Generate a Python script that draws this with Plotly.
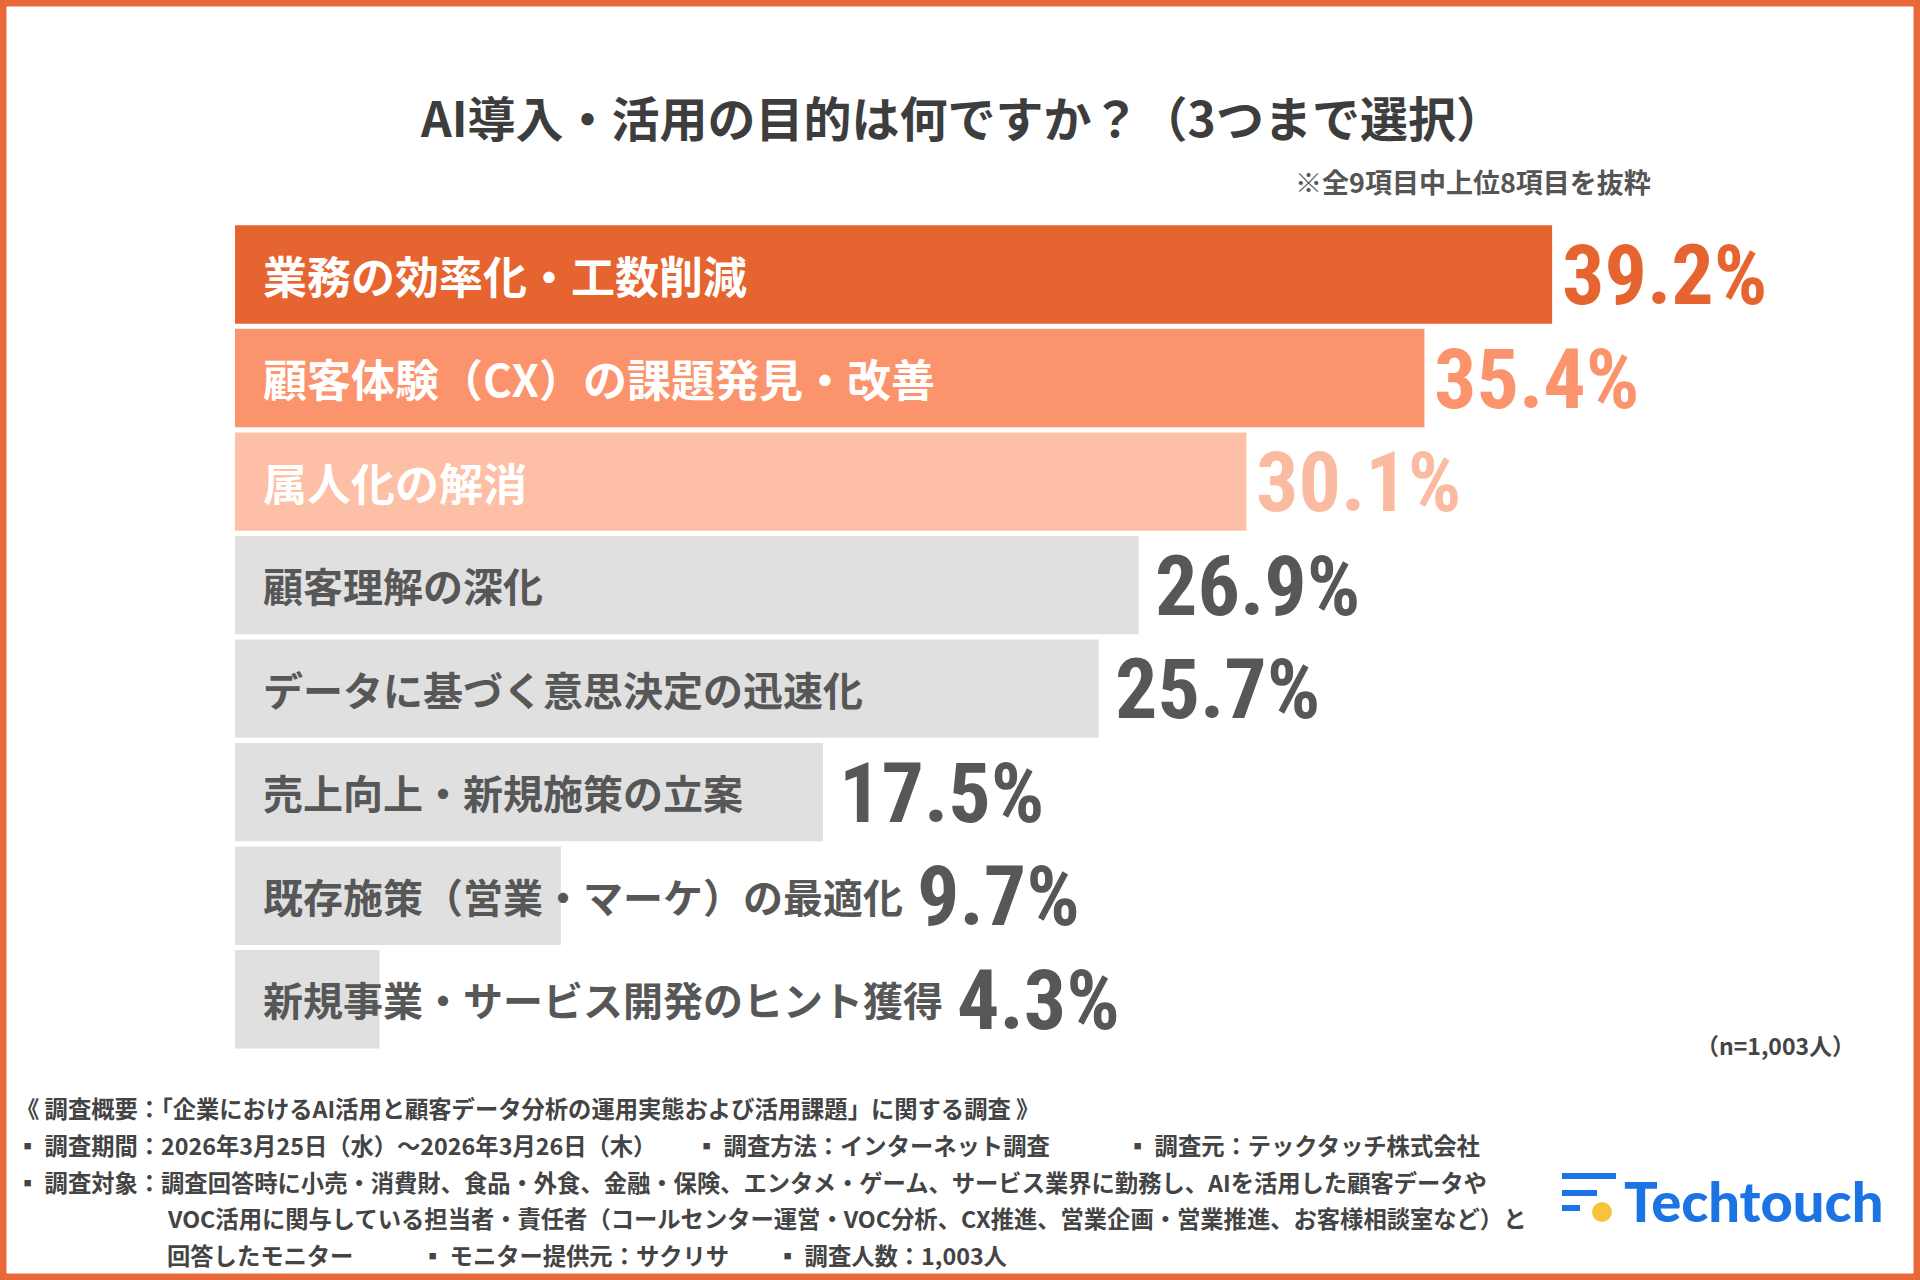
import plotly.graph_objects as go

# --- data -------------------------------------------------------------
TITLE = "AI導入・活用の目的は何ですか？（3つまで選択）"
NOTE = "※全9項目中上位8項目を抜粋"
N_NOTE = "（n=1,003人）"
CATEGORIES = [
    "業務の効率化・工数削減",
    "顧客体験（CX）の課題発見・改善",
    "属人化の解消",
    "顧客理解の深化",
    "データに基づく意思決定の迅速化",
    "売上向上・新規施策の立案",
    "既存施策（営業・マーケ）の最適化",
    "新規事業・サービス開発のヒント獲得",
]
VALUES = [39.2, 35.4, 30.1, 26.9, 25.7, 17.5, 9.7, 4.3]
FOOTER_1 = "《 調査概要：「企業におけるAI活用と顧客データ分析の運用実態および活用課題」に関する調査 》"
FOOTER_2 = ["▪ 調査期間：2026年3月25日（水）〜2026年3月26日（木）",
            "▪ 調査方法：インターネット調査",
            "▪ 調査元：テックタッチ株式会社"]
FOOTER_3 = "▪ 調査対象：調査回答時に小売・消費財、食品・外食、金融・保険、エンタメ・ゲーム、サービス業界に勤務し、AIを活用した顧客データや"
FOOTER_4 = "VOC活用に関与している担当者・責任者（コールセンター運営・VOC分析、CX推進、営業企画・営業推進、お客様相談室など）と"
FOOTER_5 = ["回答したモニター", "▪ モニター提供元：サクリサ", "▪ 調査人数：1,003人"]
LOGO = "Techtouch"

# --- style ------------------------------------------------------------
BAR_COLORS = ["#E6642F", "#FB946C", "#FDBFA6"] + ["#E0E0E0"] * 5
VAL_COLORS = ["#E6642F", "#FB946C", "#FBBBA1"] + ["#575757"] * 5
LAB_COLORS = ["#FFFFFF"] * 3 + ["#575757"] * 5
BORDER = "#E8683C"
JP = "Noto Sans CJK JP"
NUM = "Roboto Condensed, sans-serif"

W, H = 1920, 1280
L, R, T, B = 235, 120, 222, 229
PW, PH = W - L - R, H - T - B
PX_PER_PCT = 33.6


def px(x):
    return (x - L) / PW


def py(y):
    return 1 - (y - T) / PH


def text_w(s, size):
    # rough width: full-width glyphs 1em, latin ~0.55em
    return sum(size * (0.55 if ord(c) < 256 else 1.0) for c in s)


fig = go.Figure()
fig.add_bar(x=VALUES, y=CATEGORIES, orientation="h", marker_color=BAR_COLORS,
            marker_line_width=0, hoverinfo="skip")

ann = []
for i, (cat, v) in enumerate(zip(CATEGORIES, VALUES)):
    fs = 44 if i < 3 else 40
    ann.append(dict(x=0, y=cat, xref="x", yref="y", text=cat, showarrow=False,
                    xanchor="left", yanchor="middle", xshift=26,
                    font=dict(family=JP, size=fs, color=LAB_COLORS[i], weight="bold")))
    # value sits after the bar, or after the label when the label spills out
    lab_end = (26 + text_w(cat, fs)) / PX_PER_PCT
    ann.append(dict(x=max(v, lab_end), y=cat, xref="x", yref="y", text=f"{v:.1f}%",
                    showarrow=False, xanchor="left", yanchor="middle",
                    xshift=8 if i < 3 else 14, yshift=-1,
                    font=dict(family=NUM, size=84, color=VAL_COLORS[i], weight="bold")))


def note(x, y, s, size, color="#444444", anchor="left", family=JP, weight="bold"):
    ann.append(dict(x=px(x), y=py(y), xref="paper", yref="paper", text=s,
                    showarrow=False, xanchor=anchor, yanchor="middle",
                    font=dict(family=family, size=size, color=color, weight=weight)))


note(W / 2 + 2, 116, TITLE, 48, "#3D3D3D", "center")
note(1653, 182, NOTE, 27, "#555555", "right")
note(1857, 1045, N_NOTE, 23, "#444444", "right")
note(14, 1108, FOOTER_1, 23.3)
for x, s in zip([14, 693, 1124], FOOTER_2):
    note(x, 1145, s, 23.3)
note(14, 1182, FOOTER_3, 23.3)
note(165, 1218, FOOTER_4, 23.3)
for x, s in zip([165, 419, 774], FOOTER_5):
    note(x, 1255, s, 23.3)
note(1622, 1200, LOGO, 56, "#1C74E4", family="Lato, Roboto, sans-serif", weight=900)

# frame + logo mark
shapes = [dict(type="rect", xref="paper", yref="paper", x0=px(0), x1=px(W), y0=py(0), y1=py(H),
               line=dict(color=BORDER, width=13), fillcolor="rgba(0,0,0,0)", layer="above")]
for x0, x1, y in [(1562, 1616, 1176), (1562, 1597, 1193), (1562, 1580, 1208)]:
    shapes.append(dict(type="line", xref="paper", yref="paper", x0=px(x0), x1=px(x1),
                       y0=py(y), y1=py(y), line=dict(color="#1C74E4", width=6)))
shapes.append(dict(type="circle", xref="paper", yref="paper", x0=px(1592), x1=px(1612),
                   y0=py(1222), y1=py(1202), fillcolor="#F9C23C", line_width=0))

fig.update_layout(
    width=W, height=H, margin=dict(l=L, r=R, t=T, b=B),
    paper_bgcolor="white", plot_bgcolor="white", showlegend=False,
    bargap=0.05, annotations=ann, shapes=shapes,
    xaxis=dict(range=[0, PW / PX_PER_PCT], visible=False, fixedrange=True),
    yaxis=dict(autorange="reversed", visible=False, fixedrange=True),
)
fig.write_html("out.html", config={"displayModeBar": False},
               post_script="document.body.style.margin='0';")
